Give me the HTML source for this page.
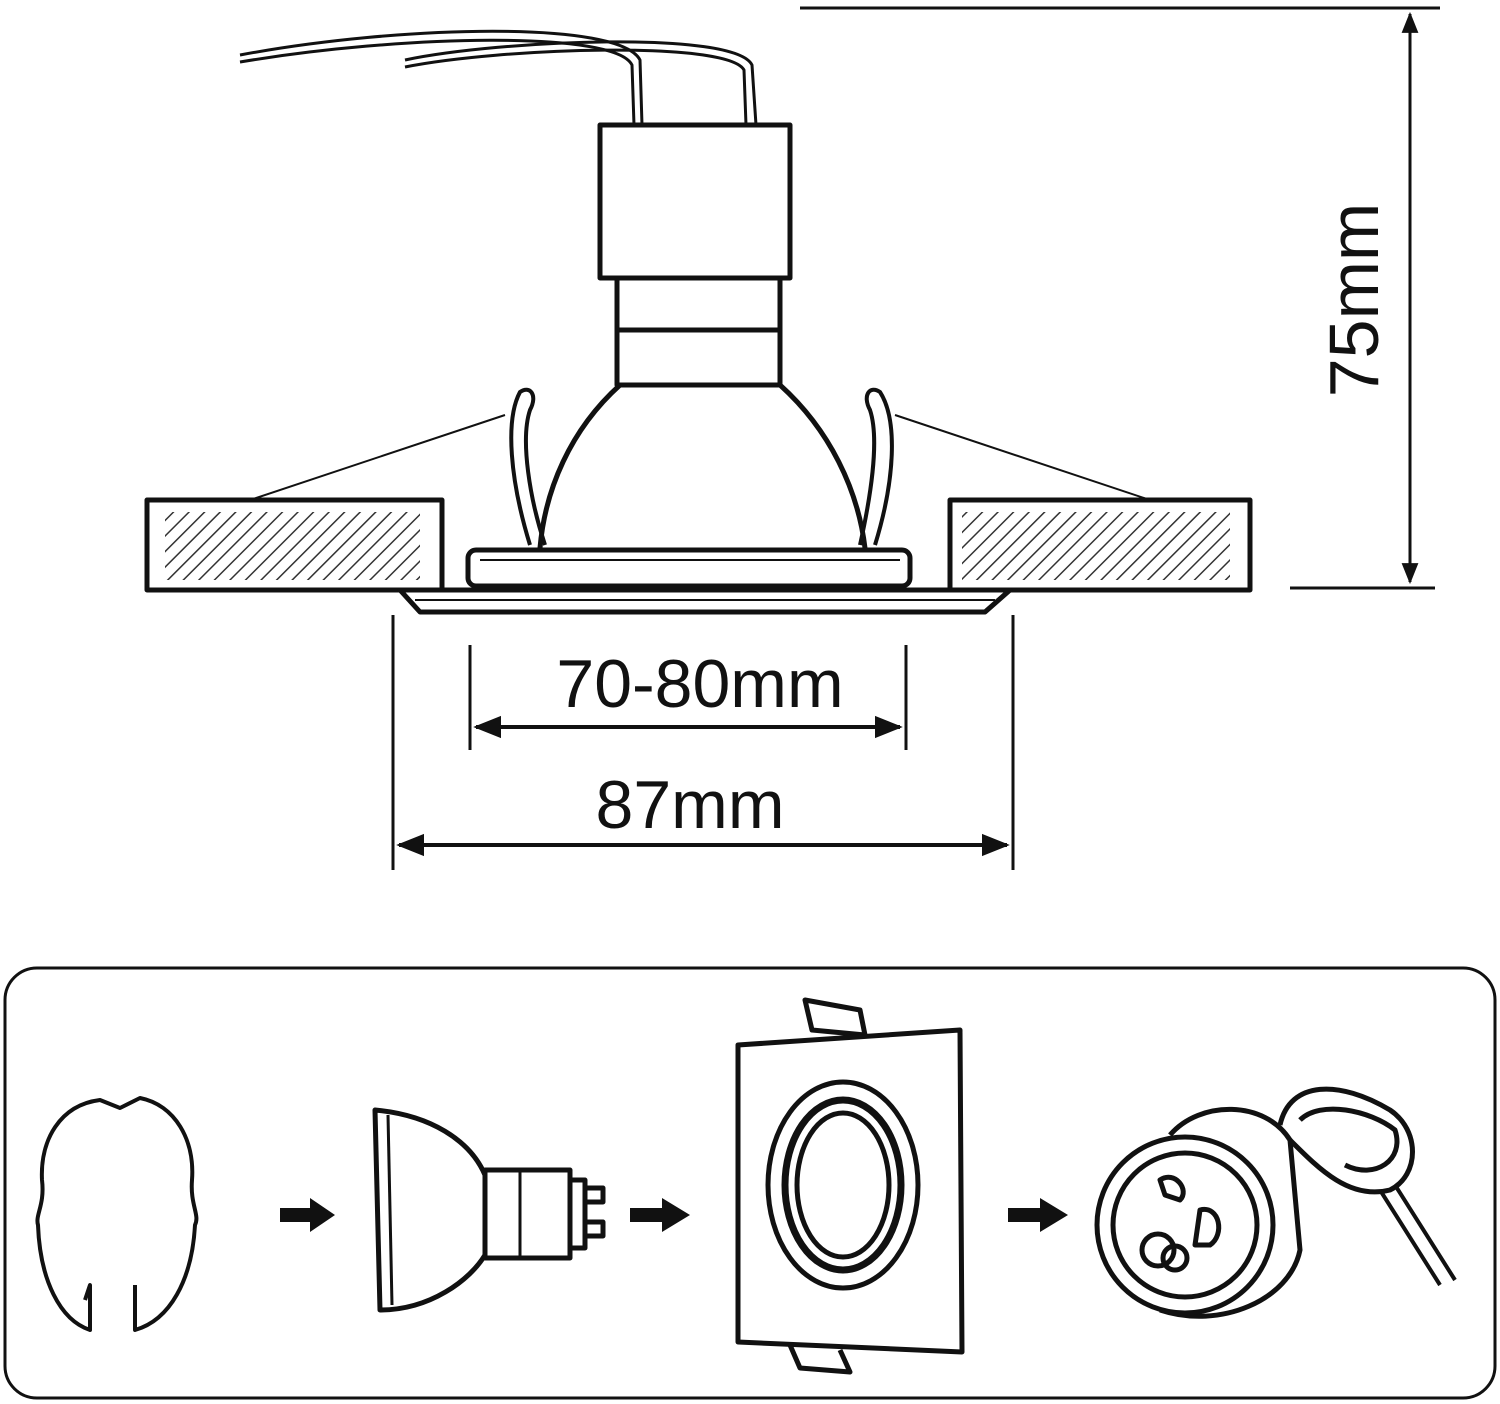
<!DOCTYPE html>
<html><head><meta charset="utf-8"><style>
html,body{margin:0;padding:0;background:#fff}
svg{display:block}
text{font-family:"Liberation Sans",sans-serif;fill:#111}
</style></head><body>
<svg width="1500" height="1404" viewBox="0 0 1500 1404" xmlns="http://www.w3.org/2000/svg">
<defs>
<pattern id="h" width="11" height="11" patternUnits="userSpaceOnUse" patternTransform="rotate(45)">
<rect width="11" height="11" fill="#fff"/><line x1="0" y1="0" x2="0" y2="11" stroke="#333" stroke-width="3"/>
</pattern>
<marker id="a" viewBox="0 0 10 10" refX="9" refY="5" markerWidth="7" markerHeight="7" orient="auto-start-reverse"><path d="M0,1 L10,5 L0,9 z" fill="#111"/></marker>
</defs>
<g fill="none" stroke="#111" stroke-width="5" stroke-linejoin="round">
<line x1="800" y1="8" x2="1440" y2="8" stroke-width="3"/>
<line x1="1290" y1="588" x2="1435" y2="588" stroke-width="3"/>
<line x1="1410" y1="14" x2="1410" y2="582" stroke-width="3" marker-start="url(#a)" marker-end="url(#a)"/>
<path d="M240,55 C400,25 620,20 640,60 L642,125" stroke-width="3"/>
<path d="M240,62 C400,35 615,30 632,65 L634,125" stroke-width="3"/>
<path d="M405,60 C500,40 735,30 752,65 L756,125" stroke-width="3"/>
<path d="M405,67 C500,48 728,40 744,70 L746,125" stroke-width="3"/>
<rect x="600" y="125" width="190" height="153"/>
<rect x="617" y="278" width="163" height="107"/>
<line x1="617" y1="330" x2="780" y2="330"/>
<path d="M620,385 C570,430 545,490 540,548"/>
<path d="M780,385 C830,430 858,490 865,548"/>
<path d="M530,545 C510,480 505,420 520,392 C530,385 538,395 530,410 C520,440 530,500 545,545" stroke-width="4"/>
<path d="M875,545 C895,480 898,420 880,392 C870,385 862,395 870,410 C880,440 870,500 860,545" stroke-width="4"/>
<line x1="250" y1="500" x2="505" y2="415" stroke-width="2"/>
<line x1="1150" y1="500" x2="895" y2="415" stroke-width="2"/>
<rect x="147" y="500" width="295" height="90"/>
<rect x="165" y="512" width="255" height="68" fill="url(#h)" stroke="none"/>
<rect x="950" y="500" width="300" height="90"/>
<rect x="962" y="512" width="268" height="68" fill="url(#h)" stroke="none"/>
<rect x="468" y="550" width="442" height="36" rx="8" fill="#fff"/>
<line x1="480" y1="560" x2="900" y2="560" stroke-width="2"/>
<path d="M400,590 L1010,590 L985,612 L420,612 Z" fill="#fff"/>
<line x1="415" y1="600" x2="995" y2="600" stroke-width="2"/>
<line x1="393" y1="615" x2="393" y2="870" stroke-width="3"/>
<line x1="1013" y1="615" x2="1013" y2="870" stroke-width="3"/>
<line x1="470" y1="645" x2="470" y2="750" stroke-width="3"/>
<line x1="906" y1="645" x2="906" y2="750" stroke-width="3"/>
<line x1="476" y1="727" x2="900" y2="727" stroke-width="4" marker-start="url(#a)" marker-end="url(#a)"/>
<line x1="399" y1="845" x2="1007" y2="845" stroke-width="4" marker-start="url(#a)" marker-end="url(#a)"/>
<rect x="5" y="968" width="1490" height="430" rx="32" stroke-width="3"/>
<path d="M85,1300 L90,1285 L90,1330 C60,1320 40,1280 38,1225 C35,1215 45,1205 42,1180 C40,1140 60,1105 100,1100 L120,1108 L140,1098 C175,1105 195,1140 192,1180 C190,1205 200,1215 195,1225 C192,1280 170,1320 135,1330 L135,1285" stroke-width="4"/>
<path d="M280,1208 L310,1208 L310,1198 L335,1215 L310,1232 L310,1222 L280,1222 Z" fill="#111" stroke="none"/>
<path d="M630,1208 L662,1208 L662,1198 L690,1215 L662,1232 L662,1222 L630,1222 Z" fill="#111" stroke="none"/>
<path d="M1008,1208 L1040,1208 L1040,1198 L1068,1215 L1040,1232 L1040,1222 L1008,1222 Z" fill="#111" stroke="none"/>
<path d="M375,1110 L380,1310 C430,1310 470,1280 485,1255 L485,1175 C470,1140 430,1115 375,1110 Z"/>
<line x1="388" y1="1115" x2="392" y2="1305" stroke-width="3"/>
<rect x="485" y="1170" width="85" height="88"/>
<line x1="520" y1="1170" x2="520" y2="1258" stroke-width="3"/>
<rect x="570" y="1180" width="15" height="68"/>
<rect x="585" y="1188" width="18" height="14"/>
<rect x="585" y="1222" width="18" height="14"/>
<path d="M805,1000 L860,1010 L865,1035 L812,1030 Z"/>
<path d="M738,1045 L960,1030 L962,1352 L738,1342 Z" fill="#fff"/>
<path d="M790,1345 L800,1368 L850,1372 L840,1350"/>
<ellipse cx="843" cy="1185" rx="75" ry="103"/>
<ellipse cx="843" cy="1185" rx="58" ry="85" stroke-width="7"/>
<ellipse cx="843" cy="1185" rx="46" ry="72"/>
<path d="M1170,1135 C1200,1100 1265,1100 1290,1140 L1300,1250 C1290,1300 1220,1330 1160,1310"/>
<ellipse cx="1185" cy="1225" rx="88" ry="88"/>
<ellipse cx="1185" cy="1225" rx="72" ry="72"/>
<circle cx="1158" cy="1250" r="16"/><circle cx="1175" cy="1258" r="12"/>
<path d="M1160,1180 C1175,1170 1190,1190 1180,1200 L1165,1195 Z"/>
<path d="M1200,1210 C1220,1205 1225,1235 1210,1245 L1195,1245 Z"/>
<path d="M1280,1125 C1290,1080 1340,1080 1390,1110 C1420,1130 1420,1175 1390,1190 C1350,1200 1320,1170 1290,1140"/>
<path d="M1300,1120 C1320,1100 1370,1110 1395,1130 C1405,1160 1375,1180 1345,1165"/>
<path d="M1380,1190 L1440,1285 M1395,1185 L1455,1280" stroke-width="4"/>
</g>
<text x="1378" y="300" font-size="70" text-anchor="middle" transform="rotate(-90 1378 300)">75mm</text>
<text x="700" y="707" font-size="68" text-anchor="middle">70-80mm</text>
<text x="690" y="828" font-size="68" text-anchor="middle">87mm</text>
</svg>
</body></html>
